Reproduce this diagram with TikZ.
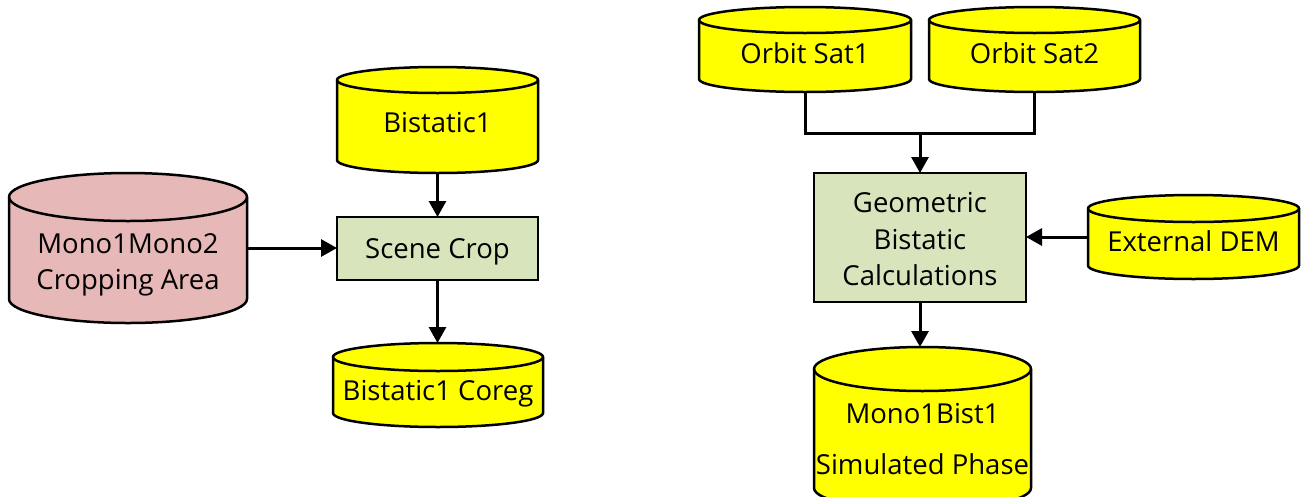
\documentclass[tikz,border=0pt]{standalone}
\usepackage{fontspec}
\setmainfont{Open Sans}
\usetikzlibrary{arrows.meta,calc}
\definecolor{dbyellow}{HTML}{FFFF00}
\definecolor{dbpink}{HTML}{E6B8B7}
\definecolor{procgreen}{HTML}{D8E4BC}

\tikzset{
  bounds/.style={rectangle, inner sep=0pt, outer sep=0pt},
  procbox/.style={rectangle, draw, line width=2.5pt, fill=procgreen, inner sep=0pt, outer sep=0pt},
  cylline/.style={draw=black, line width=2.5pt},
  txt/.style={font=\fontsize{27.5}{31}\selectfont, inner sep=0pt, anchor=base},
  conn/.style={line width=3pt, -{Triangle[width=17pt,length=16pt]}},
  plainconn/.style={line width=3pt},
}

% data store: cylinder drawn around a named bounding node
% #1 node name, #2 cap half-height (pt), #3 fill colour
\newcommand\cylinderstore[3]{%
  \filldraw[cylline, fill=#3] let \p1=(#1.north west), \p2=(#1.south east),
      \n1={(\x2-\x1)/2} in
    (\x1,\y1-#2pt) -- (\x1,\y2+#2pt)
      arc[start angle=180, end angle=360, x radius=\n1, y radius=#2pt]
      -- (\x2,\y1-#2pt)
      arc[start angle=0, end angle=180, x radius=\n1, y radius=#2pt] -- cycle;
  \draw[cylline] let \p1=(#1.north west), \p2=(#1.south east),
      \n1={(\x2-\x1)/2} in
    (\x1,\y1-#2pt) arc[start angle=180, end angle=360, x radius=\n1, y radius=#2pt];
}

\begin{document}
\begin{tikzpicture}[x=1pt, y=1pt]
\useasboundingbox (0,0) rectangle (1304,-496);
\begin{scope}
\clip (0,0) rectangle (1304,-496);

% ---- left flow ----
\node[bounds, minimum width=238, minimum height=150] (mono) at (128,-248) {};
\node[bounds, minimum width=201, minimum height=106] (bist) at (437.5,-120) {};
\node[bounds, minimum width=210, minimum height=84] (coreg) at (438,-385) {};
\node[procbox, minimum width=201, minimum height=63] (scene) at (437.5,-248.5) {};

\cylinderstore{mono}{24}{dbpink}
\cylinderstore{bist}{13}{dbyellow}
\cylinderstore{coreg}{14}{dbyellow}

\node[txt] (mono-a) at (128,-253) {Mono1Mono2};
\node[txt] (mono-b) at (128,-289) {Cropping Area};
\node[txt] (bist-t) at (437.5,-132) {Bistatic1};
\node[txt] (scene-t) at (437.5,-258) {Scene Crop};
\node[txt] (coreg-t) at (438,-400) {Bistatic1 Coreg};

\draw[conn] (bist.south) -- (scene.north);
\draw[conn] (scene.south) -- (scene.south |- coreg.north);
\draw[conn] (mono.east) -- (mono.east -| scene.west);

% ---- right flow ----
\node[bounds, minimum width=212, minimum height=85] (sat1) at (805,-49.5) {};
\node[bounds, minimum width=211, minimum height=85] (sat2) at (1034.5,-49.5) {};
\node[bounds, minimum width=211, minimum height=84] (dem) at (1193.5,-237) {};
\node[bounds, minimum width=217, minimum height=163] (m1b) at (922.5,-428.5) {};
\node[procbox, minimum width=212, minimum height=129] (geo) at (920,-237.5) {};

\cylinderstore{sat1}{13}{dbyellow}
\cylinderstore{sat2}{13}{dbyellow}
\cylinderstore{dem}{13.5}{dbyellow}
\cylinderstore{m1b}{22}{dbyellow}

\node[txt] (sat1-t) at (805,-63) {Orbit Sat1};
\node[txt] (sat2-t) at (1034.5,-63) {Orbit Sat2};
\node[txt] (geo-a) at (920,-212) {Geometric};
\node[txt] (geo-b) at (920,-249) {Bistatic};
\node[txt] (geo-c) at (920,-285) {Calculations};
\node[txt] (dem-t) at (1193.5,-251) {External DEM};
\node[txt] (m1b-a) at (922.5,-423) {Mono1Bist1};
\node[txt] (m1b-b) at (922.5,-474) {Simulated Phase};

\coordinate (join) at (920,-133);
\draw[plainconn] (sat1.south) |- (join) -| (sat2.south);
\draw[conn] (join) -- (geo.north);
\draw[conn] (dem.west) -- (dem.west -| geo.east);
\draw[conn] (geo.south) -- (geo.south |- m1b.north);
\end{scope}
\end{tikzpicture}
\end{document}
